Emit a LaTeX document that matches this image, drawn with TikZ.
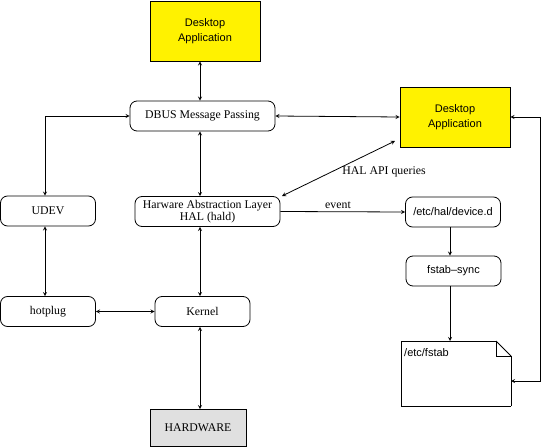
\documentclass[tikz,border=0pt]{standalone}
\usepackage{fontspec}
\setmainfont{Liberation Serif}
\setsansfont{Liberation Sans}
\usepackage{tikz}
\usetikzlibrary{backgrounds}
\pgfdeclarelayer{edgelayer}
\pgfdeclarelayer{nodelayer}
\pgfsetlayers{edgelayer,nodelayer,main}
\tikzstyle{none}=[inner sep=0pt]
\definecolor{lgray}{rgb}{0.88,0.88,0.88}
\tikzstyle{module}=[rectangle,rounded corners=7pt,draw=black,line width=0.8,minimum width=95pt,minimum height=30pt,inner sep=2pt,align=center,font=\fontsize{11.8}{12.5}\selectfont]
\tikzstyle{widemodule}=[module,minimum width=145pt]
\tikzstyle{filemodule}=[module,font=\sffamily\fontsize{11}{12}\selectfont]
\tikzstyle{app}=[rectangle,fill=yellow,draw=black,line width=0.8,minimum width=110pt,minimum height=60pt,align=center,font=\sffamily\fontsize{11}{14.5}\selectfont]
\tikzstyle{hw}=[rectangle,fill=lgray,draw=black,line width=0.8,minimum width=96pt,minimum height=37pt,font=\fontsize{11.8}{12}\selectfont]
\tikzstyle{empty}=[inner sep=0pt,font=\fontsize{11.8}{12}\selectfont]
\tikzstyle{filelabel}=[inner sep=0pt,font=\sffamily\fontsize{11}{12}\selectfont]
\tikzstyle{both}=[<->, >=stealth, line width=0.8]
\tikzstyle{inarrow}=[->, >=stealth, line width=0.8]
\tikzstyle{simple}=[-, line width=0.8]

\begin{document}
\begin{tikzpicture}[x=1pt,y=-1pt]
	\useasboundingbox (0,0) rectangle (542,447);
	\begin{pgfonlayer}{nodelayer}
		\node [style=app] (0) at (205, 31) {Desktop\\Application};
		\node [style=widemodule] (1) at (202.5, 116) {DBUS Message Passing};
		\node [style=app] (2) at (455, 117) {Desktop\\Application};
		\node [style=module] (3) at (48, 211) {UDEV};
		\node [style=widemodule] (4) at (207.5, 211.5) {Harware Abstraction Layer\\HAL (hald)};
		\node [style=filemodule] (5) at (453, 212) {/etc/hal/device.d};
		\node [style=filemodule] (6) at (453.5, 271) {fstab{\textendash}sync};
		\node [style=module] (7) at (48, 311.5) {hotplug};
		\node [style=module] (8) at (202.5, 311.5) {Kernel};
		\node [style=hw] (9) at (198, 428) {HARDWARE};
		\node [style=none] (10) at (401, 341) {};
		\node [style=none] (11) at (496, 341) {};
		\node [style=none] (12) at (511, 356) {};
		\node [style=none] (13) at (511, 406) {};
		\node [style=none] (14) at (401, 406) {};
		\node [style=none] (15) at (496, 356) {};
		\node [style=filelabel, anchor=west] (16) at (404, 353) {/etc/fstab};
		\node [style=none] (17) at (511, 381) {};
		\node [style=none] (18) at (540, 381) {};
		\node [style=none] (19) at (450, 341) {};
		\node [style=empty] (20) at (384, 172) {HAL API queries};
		\node [style=empty] (21) at (338, 205) {event};
		\node [style=none] (22) at (395, 141) {};
		\node [style=none] (23) at (282, 196) {};
	\end{pgfonlayer}
	\begin{pgfonlayer}{edgelayer}
		\draw [style=both] ([xshift=-5]0.south) to ([xshift=-2.5]1.north);
		\draw [style=both] ([xshift=-2.5]1.south) to ([xshift=-7.5]4.north);
		\draw [style=both] ([xshift=-7.5]4.south) to ([xshift=-2.5]8.north);
		\draw [style=both] ([xshift=-2.5]8.south) to ([xshift=2]9.north);
		\draw [style=both] (1.east) to (2.west);
		\draw [style=both] (1.west) -| ([xshift=-3]3.north);
		\draw [style=both] ([xshift=-3]3.south) to ([xshift=-3]7.north);
		\draw [style=both] (7.east) to (8.west);
		\draw [style=both] (22.center) to (23.center);
		\draw [style=inarrow] (4.east) to (5.west);
		\draw [style=inarrow] ([xshift=-3]5.south) to ([xshift=-3.5]6.north);
		\draw [style=inarrow] ([xshift=-3.5]6.south) to (19.center);
		\draw [style=both] (2.east) -| (18.center) -- (17.center);
		\draw [style=simple] (10.center) to (11.center);
		\draw [style=simple] (11.center) to (12.center);
		\draw [style=simple] (12.center) to (13.center);
		\draw [style=simple] (13.center) to (14.center);
		\draw [style=simple] (14.center) to (10.center);
		\draw [style=simple] (11.center) to (15.center);
		\draw [style=simple] (15.center) to (12.center);
	\end{pgfonlayer}
\end{tikzpicture}
\end{document}
